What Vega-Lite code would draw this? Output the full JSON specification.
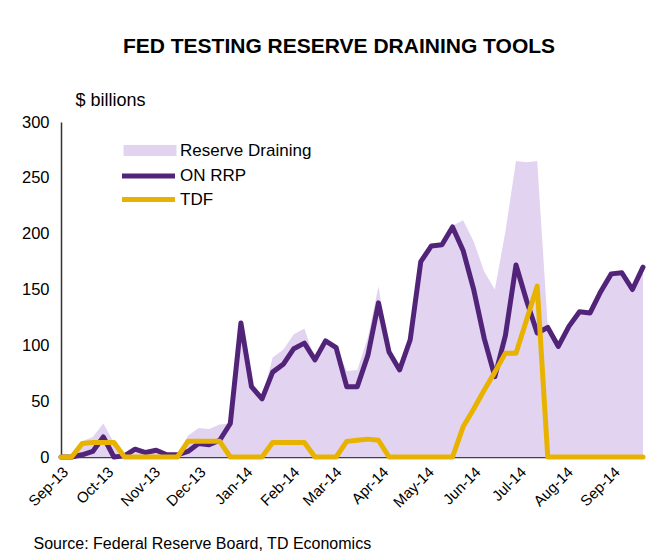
{
  "$schema": "https://vega.github.io/schema/vega-lite/v6.json",
  "width": 582,
  "height": 335,
  "autosize": {"type": "none"},
  "padding": {"left": 61, "top": 122, "right": 24, "bottom": 101},
  "background": "white",
  "title": {
    "text": "FED TESTING RESERVE DRAINING TOOLS",
    "anchor": "middle",
    "dx": -13,
    "offset": 34,
    "fontSize": 21,
    "fontWeight": "bold",
    "font": "Liberation Sans",
    "color": "#000000"
  },
  "config": {
    "view": {"stroke": null},
    "font": "Liberation Sans",
    "legend": {
      "title": null,
      "orient": "none",
      "padding": 0,
      "labelFontSize": 17,
      "labelColor": "#000000",
      "labelFont": "Liberation Sans"
    }
  },
  "resolve": {"scale": {"color": "independent"}},
  "data": {
    "values": [
      {"date": "2013-09-04", "reserve": 0, "onrrp": 0, "tdf": 0},
      {"date": "2013-09-11", "reserve": 0, "onrrp": 0, "tdf": 0},
      {"date": "2013-09-18", "reserve": 14, "onrrp": 2, "tdf": 12},
      {"date": "2013-09-25", "reserve": 18, "onrrp": 5, "tdf": 13},
      {"date": "2013-10-02", "reserve": 30, "onrrp": 18, "tdf": 13},
      {"date": "2013-10-09", "reserve": 13, "onrrp": 0, "tdf": 13},
      {"date": "2013-10-16", "reserve": 1, "onrrp": 1, "tdf": 0},
      {"date": "2013-10-23", "reserve": 7, "onrrp": 7, "tdf": 0},
      {"date": "2013-10-30", "reserve": 4, "onrrp": 4, "tdf": 0},
      {"date": "2013-11-06", "reserve": 6, "onrrp": 6, "tdf": 0},
      {"date": "2013-11-13", "reserve": 2, "onrrp": 2, "tdf": 0},
      {"date": "2013-11-20", "reserve": 2, "onrrp": 2, "tdf": 0},
      {"date": "2013-11-27", "reserve": 19, "onrrp": 5, "tdf": 14},
      {"date": "2013-12-04", "reserve": 26, "onrrp": 12, "tdf": 14},
      {"date": "2013-12-11", "reserve": 25, "onrrp": 11, "tdf": 14},
      {"date": "2013-12-18", "reserve": 29, "onrrp": 15, "tdf": 14},
      {"date": "2013-12-25", "reserve": 30, "onrrp": 30, "tdf": 0},
      {"date": "2014-01-01", "reserve": 120, "onrrp": 120, "tdf": 0},
      {"date": "2014-01-08", "reserve": 63, "onrrp": 63, "tdf": 0},
      {"date": "2014-01-15", "reserve": 52, "onrrp": 52, "tdf": 0},
      {"date": "2014-01-22", "reserve": 89, "onrrp": 76, "tdf": 13},
      {"date": "2014-01-29", "reserve": 96, "onrrp": 83, "tdf": 13},
      {"date": "2014-02-05", "reserve": 110, "onrrp": 97, "tdf": 13},
      {"date": "2014-02-12", "reserve": 115, "onrrp": 102, "tdf": 13},
      {"date": "2014-02-19", "reserve": 87, "onrrp": 87, "tdf": 0},
      {"date": "2014-02-26", "reserve": 104, "onrrp": 104, "tdf": 0},
      {"date": "2014-03-05", "reserve": 98, "onrrp": 98, "tdf": 0},
      {"date": "2014-03-12", "reserve": 77, "onrrp": 63, "tdf": 14},
      {"date": "2014-03-19", "reserve": 78, "onrrp": 63, "tdf": 15},
      {"date": "2014-03-26", "reserve": 107, "onrrp": 91, "tdf": 16},
      {"date": "2014-04-02", "reserve": 153, "onrrp": 138, "tdf": 15},
      {"date": "2014-04-09", "reserve": 94, "onrrp": 94, "tdf": 0},
      {"date": "2014-04-16", "reserve": 78, "onrrp": 78, "tdf": 0},
      {"date": "2014-04-23", "reserve": 105, "onrrp": 105, "tdf": 0},
      {"date": "2014-04-30", "reserve": 175, "onrrp": 175, "tdf": 0},
      {"date": "2014-05-07", "reserve": 189, "onrrp": 189, "tdf": 0},
      {"date": "2014-05-14", "reserve": 190, "onrrp": 190, "tdf": 0},
      {"date": "2014-05-21", "reserve": 207, "onrrp": 206, "tdf": 0},
      {"date": "2014-05-28", "reserve": 212, "onrrp": 185, "tdf": 27},
      {"date": "2014-06-04", "reserve": 193, "onrrp": 150, "tdf": 43},
      {"date": "2014-06-11", "reserve": 166, "onrrp": 106, "tdf": 60},
      {"date": "2014-06-18", "reserve": 150, "onrrp": 72, "tdf": 76},
      {"date": "2014-06-25", "reserve": 202, "onrrp": 109, "tdf": 93},
      {"date": "2014-07-02", "reserve": 265, "onrrp": 172, "tdf": 93},
      {"date": "2014-07-09", "reserve": 264, "onrrp": 140, "tdf": 123},
      {"date": "2014-07-16", "reserve": 265, "onrrp": 111, "tdf": 153},
      {"date": "2014-07-23", "reserve": 117, "onrrp": 116, "tdf": 0},
      {"date": "2014-07-30", "reserve": 99, "onrrp": 99, "tdf": 0},
      {"date": "2014-08-06", "reserve": 117, "onrrp": 117, "tdf": 0},
      {"date": "2014-08-13", "reserve": 130, "onrrp": 130, "tdf": 0},
      {"date": "2014-08-20", "reserve": 129, "onrrp": 129, "tdf": 0},
      {"date": "2014-08-27", "reserve": 148, "onrrp": 148, "tdf": 0},
      {"date": "2014-09-03", "reserve": 164, "onrrp": 164, "tdf": 0},
      {"date": "2014-09-10", "reserve": 165, "onrrp": 165, "tdf": 0},
      {"date": "2014-09-17", "reserve": 150, "onrrp": 150, "tdf": 0},
      {"date": "2014-09-24", "reserve": 170, "onrrp": 170, "tdf": 0}
    ]
  },
  "encoding": {
    "x": {
      "field": "date",
      "type": "temporal",
      "scale": {
        "domain": [{"year": 2013, "month": 9, "date": 4}, {"year": 2014, "month": 9, "date": 24}],
        "nice": false
      },
      "axis": {
        "title": "Source: Federal Reserve Board, TD Economics",
        "titleFontSize": 16,
        "titleFontWeight": "normal",
        "titleColor": "#000000",
        "titleAnchor": "start",
        "titleAlign": "left",
        "titleBaseline": "middle",
        "titleX": -28,
        "titleY": 86,
        "values": [
          {"year": 2013, "month": 9, "date": 4},
          {"year": 2013, "month": 10, "date": 4},
          {"year": 2013, "month": 11, "date": 4},
          {"year": 2013, "month": 12, "date": 4},
          {"year": 2014, "month": 1, "date": 4},
          {"year": 2014, "month": 2, "date": 4},
          {"year": 2014, "month": 3, "date": 4},
          {"year": 2014, "month": 4, "date": 4},
          {"year": 2014, "month": 5, "date": 4},
          {"year": 2014, "month": 6, "date": 4},
          {"year": 2014, "month": 7, "date": 4},
          {"year": 2014, "month": 8, "date": 4},
          {"year": 2014, "month": 9, "date": 4}
        ],
        "format": "%b-%y",
        "labelAngle": -45,
        "labelAlign": "right",
        "labelBaseline": "middle",
        "labelFontSize": 15,
        "labelColor": "#000000",
        "labelPadding": 12,
        "labelOffset": 4,
        "labelOverlap": false,
        "ticks": false,
        "grid": false,
        "domainColor": "#404040",
        "domainWidth": 1.5
      }
    }
  },
  "layer": [
    {
      "mark": {"type": "area", "opacity": 1},
      "encoding": {
        "y": {
          "field": "reserve",
          "type": "quantitative",
          "scale": {"domain": [0, 300], "nice": false},
          "axis": {
            "title": "$ billions",
            "titleAngle": 0,
            "titleFontSize": 18,
            "titleFontWeight": "normal",
            "titleColor": "#000000",
            "titleAlign": "left",
            "titleBaseline": "middle",
            "titleX": 14,
            "titleY": -22,
            "values": [0, 50, 100, 150, 200, 250, 300],
            "labelFontSize": 16.5,
            "labelColor": "#000000",
            "labelPadding": 12,
            "ticks": false,
            "grid": false,
            "domainColor": "#333333",
            "domainWidth": 1.5
          }
        },
        "color": {
          "datum": "Reserve Draining",
          "type": "nominal",
          "scale": {"domain": ["Reserve Draining"], "range": ["#e2d3f0"]},
          "legend": {
            "legendX": 80.5,
            "legendY": 20,
            "symbolType": "M-4,-0.83H4V0.83H-4Z",
            "symbolSize": 175.6,
            "symbolStrokeWidth": 0,
            "symbolOpacity": 1,
            "labelOffset": 21.5
          }
        }
      }
    },
    {
      "mark": {"type": "line", "strokeWidth": 5, "strokeJoin": "round", "strokeCap": "round"},
      "encoding": {
        "y": {"field": "onrrp", "type": "quantitative"},
        "color": {
          "datum": "ON RRP",
          "type": "nominal",
          "scale": {"domain": ["ON RRP"], "range": ["#522479"]},
          "legend": {
            "legendX": 78,
            "legendY": 44.5,
            "symbolType": "M-4,0H4",
            "symbolSize": 175.6,
            "symbolStrokeWidth": 5,
            "symbolOpacity": 1,
            "labelOffset": 22
          }
        }
      }
    },
    {
      "mark": {"type": "line", "strokeWidth": 5, "strokeJoin": "round", "strokeCap": "round"},
      "encoding": {
        "y": {"field": "tdf", "type": "quantitative"},
        "color": {
          "datum": "TDF",
          "type": "nominal",
          "scale": {"domain": ["TDF"], "range": ["#e8b300"]},
          "legend": {
            "legendX": 78,
            "legendY": 68,
            "symbolType": "M-4,0H4",
            "symbolSize": 175.6,
            "symbolStrokeWidth": 5,
            "symbolOpacity": 1,
            "labelOffset": 22
          }
        }
      }
    }
  ]
}
